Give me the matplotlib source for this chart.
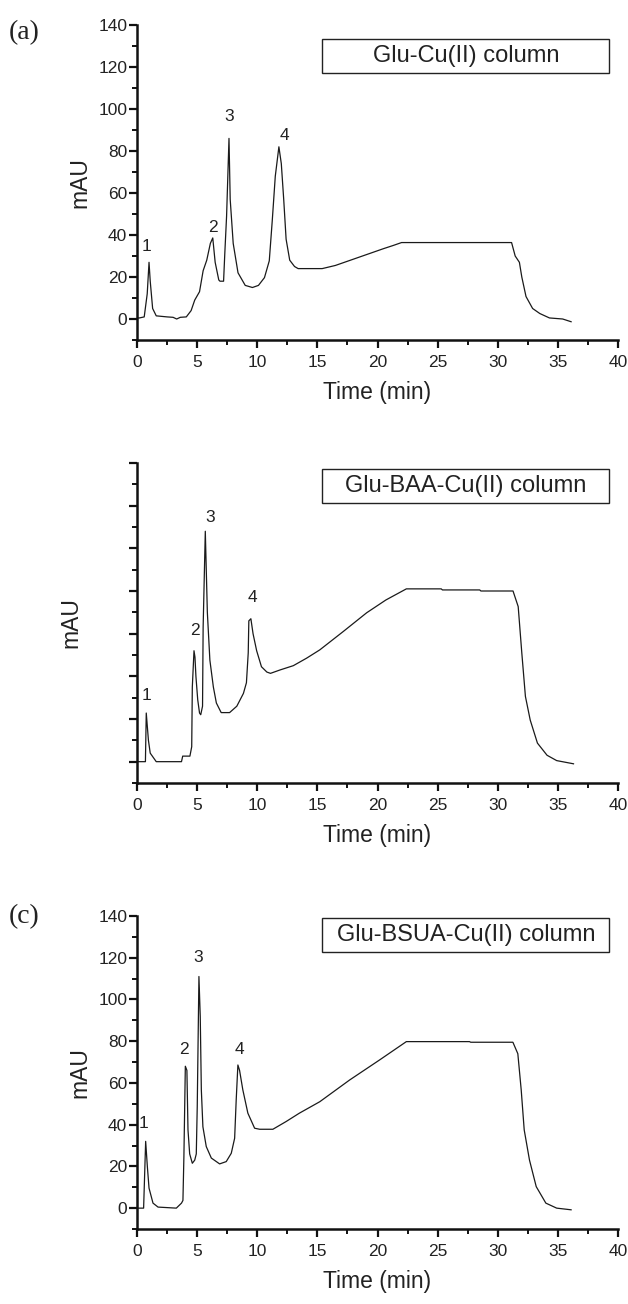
import matplotlib
matplotlib.use("Agg")
import matplotlib.pyplot as plt
from matplotlib.patches import Rectangle
from matplotlib.ticker import MultipleLocator

plt.rcParams['font.family'] = ['Liberation Sans', 'DejaVu Sans']

# ---------------- data ----------------
time_a = [0.0, 0.2, 0.6, 0.85, 1.0, 1.1, 1.3, 1.6, 2.5, 3.0, 3.3, 3.6, 4.1, 4.5, 4.8, 5.2, 5.5,
          5.8, 6.1, 6.3, 6.5, 6.8, 6.9, 7.2, 7.3, 7.45, 7.65, 7.75, 8.0, 8.4, 9.0, 9.6, 10.1, 10.6,
          11.0, 11.25, 11.5, 11.8, 12.0, 12.2, 12.4, 12.7, 13.1, 13.4, 15.4, 16.5, 17.5, 18.5,
          19.5, 20.5, 21.3, 22.0, 26.0, 31.15, 31.45, 31.8, 32.0, 32.35, 32.9, 33.5, 34.3, 35.4, 36.1]
mau_a = [0.5, 0.5, 1.0, 12, 27, 18, 5, 1.5, 1.0, 0.8, 0.0, 0.8, 1.0, 4, 9, 13, 23,
         28, 36, 38.6, 27, 18.6, 18, 18, 31, 49, 86, 57, 36, 22, 16, 15, 16, 19.7,
         27.7, 47, 68, 82, 74, 57, 38, 28, 25, 24, 24, 25.5, 27.5, 29.5,
         31.5, 33.5, 35, 36.4, 36.4, 36.4, 30, 27, 20, 10.7, 5, 2.6, 0.5, 0, -1.3]

time_b = [0.0, 0.7, 0.77, 0.95, 1.1, 1.6, 3.7, 3.8, 4.4, 4.55, 4.6, 4.74, 4.82, 4.9, 5.05, 5.2,
          5.3, 5.45, 5.5, 5.68, 5.85, 6.06, 6.35, 6.6, 7.0, 7.7, 8.3, 8.85, 9.1, 9.25, 9.3,
          9.47, 9.65, 9.95, 10.35, 10.8, 11.1, 11.9, 13.0, 14.1, 15.2, 17.15, 19.1, 20.7,
          22.4, 25.3, 25.4, 28.5, 28.6, 31.27, 31.7, 32.0, 32.3, 32.7, 33.3, 34.1, 34.9, 36.3]
mau_b = [0, 0, 22.8, 10, 4, 0, 0, 2.6, 2.6, 7, 35, 52, 49, 40, 29, 22.8,
         22, 26, 63, 108, 70, 47.6, 35, 27.5, 23, 23, 26, 32, 37, 51, 66,
         67, 60, 52, 44.5, 42, 41.4, 43, 45, 48.5, 52.4, 61, 69.8, 75.8,
         81, 81, 80.5, 80.5, 80, 80, 72.7, 51, 30.6, 19.5, 8.7, 3, 0.5, -1]

time_c = [0.0, 0.55, 0.72, 0.86, 1.0, 1.33, 1.75, 3.27, 3.7, 3.82, 3.9, 4.02, 4.15, 4.24, 4.38,
          4.6, 4.8, 4.93, 5.01, 5.15, 5.26, 5.35, 5.48, 5.76, 6.18, 6.87, 7.42, 7.84, 8.12,
          8.25, 8.39, 8.53, 8.8, 9.22, 9.78, 10.2, 11.3, 12.4, 13.5, 15.2, 17.68, 20.17,
          22.4, 27.65, 27.75, 31.26, 31.67, 31.95, 32.2, 32.64, 33.2, 34.0, 34.9, 36.1]
mau_c = [0, 0, 32, 20, 9.6, 2.4, 0.5, 0, 2.4, 3.7, 24.7, 68, 66, 37.5, 26,
         21.5, 23, 26, 48.7, 111, 91.8, 56.7, 39, 29.5, 24, 21.2, 22.3, 26.3, 33.5,
         51.9, 68.6, 66, 56.7, 45.5, 38.3, 37.8, 37.8, 41.5, 45.5, 51, 61.4, 71,
         79.8, 79.8, 79.5, 79.5, 74, 56.7, 37.5, 23, 10.3, 2.4, 0, -0.8]

peak_labels = ['1', '2', '3', '4']
peak_pos_a = [(0.8, 34.4), (6.3, 43.5), (7.65, 96.6), (12.3, 87.6)]
peak_pos_b = [(0.8, 31.0), (4.8, 61.3), (6.1, 114.6), (9.6, 77.0)]
peak_pos_c = [(0.56, 40.7), (3.9, 76.0), (5.1, 120.0), (8.5, 76.0)]

column_names = ['Glu-Cu(II) column', 'Glu-BAA-Cu(II) column', 'Glu-BSUA-Cu(II) column']
panel_tags = ['(a)', None, '(c)']
y_ticks = [0, 20, 40, 60, 80, 100, 120, 140]
x_ticks = [0, 5, 10, 15, 20, 25, 30, 35, 40]

# ---------------- figure ----------------
W, H = 628, 1304
fig = plt.figure(figsize=(W / 100, H / 100), dpi=100)

def frac_box(left_px, top_px, right_px, bottom_px):
    return [left_px / W, 1 - bottom_px / H, (right_px - left_px) / W, (bottom_px - top_px) / H]

axes_px = [(137, 25, 618, 340), (137, 463, 618, 783), (137, 916, 618, 1229)]
box_fracs = [(0.848, 0.956), (0.875, 0.981), (0.885, 0.994)]
tag_px = [(24, 33), None, (24, 917)]

series = [(time_a, mau_a, peak_pos_a), (time_b, mau_b, peak_pos_b), (time_c, mau_c, peak_pos_c)]
text_col = '#222222'

for i, (t, v, pk) in enumerate(series):
    ax = fig.add_axes(frac_box(*axes_px[i]))
    ax.plot(t, v, color='#1a1a1a', lw=0.9)
    ax.set_xlim(0, 40)
    ax.set_ylim(-10, 140)
    for s in ['top', 'right']:
        ax.spines[s].set_visible(False)
    for s in ['left', 'bottom']:
        ax.spines[s].set_linewidth(1.8)
        ax.spines[s].set_color('#111111')
    ax.set_xticks(x_ticks)
    ax.set_yticks(y_ticks)
    ax.xaxis.set_minor_locator(MultipleLocator(2.5))
    ax.yaxis.set_minor_locator(MultipleLocator(10))
    ax.tick_params(which='major', direction='out', length=6, width=1.6, color='#111111',
                   labelsize=12.5, labelcolor=text_col, pad=5)
    ax.tick_params(which='minor', direction='out', length=3.5, width=1.4, color='#111111')
    ax.tick_params(axis='y', which='major', pad=1)
    if i == 1:
        ax.set_yticklabels([])
    ax.set_xlabel('Time (min)', fontsize=16.5, color=text_col, labelpad=8)
    ax.set_ylabel('mAU', fontsize=16.5, color=text_col, labelpad=5 if i != 1 else 32)
    for lab, (px, py) in zip(peak_labels, pk):
        ax.text(px, py, lab, fontsize=12.5, color=text_col, ha='center', va='center')
    b0, b1 = box_fracs[i]
    ax.add_patch(Rectangle((0.385, b0), 0.597, b1 - b0, transform=ax.transAxes,
                           fill=False, ec='#222222', lw=1.0, clip_on=False))
    ax.text(0.385 + 0.597 / 2, (b0 + b1) / 2, column_names[i], transform=ax.transAxes,
            fontsize=17, color=text_col, ha='center', va='center')
    if panel_tags[i]:
        tx, ty = tag_px[i]
        fig.text(tx / W, 1 - ty / H, panel_tags[i], fontsize=20, family='Liberation Serif',
                 ha='center', va='center', color=text_col)

fig.savefig('out.png', dpi=100)
